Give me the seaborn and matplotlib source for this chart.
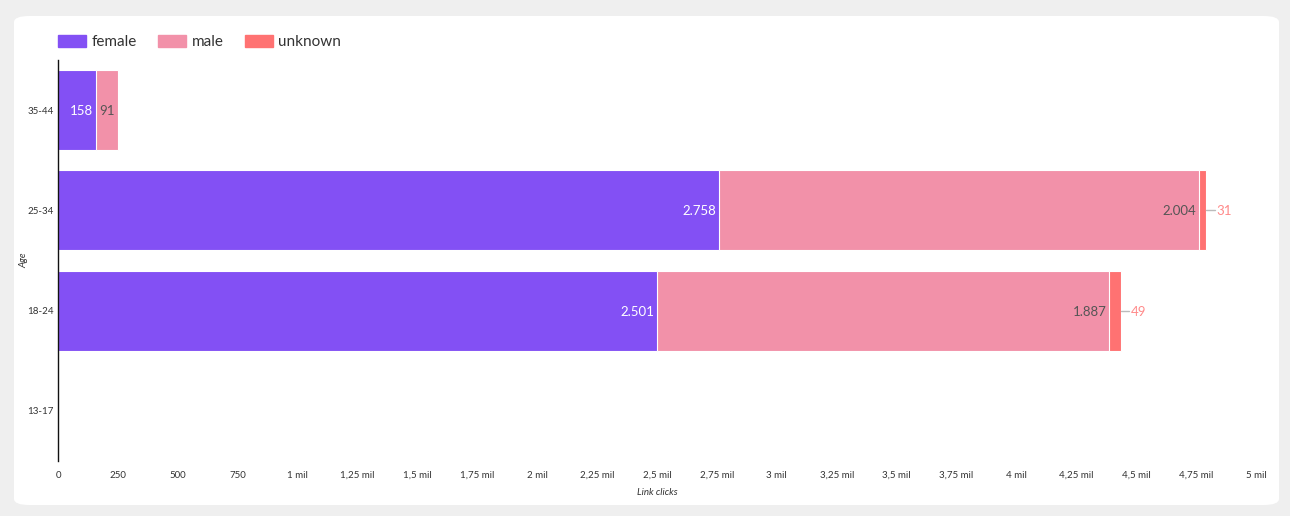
import matplotlib
matplotlib.use("Agg")
import matplotlib.pyplot as plt
from matplotlib.patches import FancyBboxPatch
import numpy as np
import pandas as pd
import seaborn as sns

ages = ["35-44", "25-34", "18-24", "13-17"]
female = [158, 2758, 2501, 0]
male = [91, 2004, 1887, 0]
unknown = [0, 31, 49, 0]
x_ticks = list(range(0, 5001, 250))

colors = {"female": "#8350F4", "male": "#F291A9", "unknown": "#FF7272"}


def fmt_num(v):
    return f"{v:,}".replace(",", ".")


def fmt_tick(v):
    if v < 1000:
        return str(int(v))
    s = f"{v / 1000:g}".replace(".", ",")
    return f"{s} mil"


sns.set_theme(style="white")
plt.rcParams["font.family"] = ["Lato", "DejaVu Sans"]

df = pd.DataFrame({"age": ages, "female": female, "male": male, "unknown": unknown})
df["fm"] = df["female"] + df["male"]
df["total"] = df["fm"] + df["unknown"]

fig = plt.figure(figsize=(12.9, 5.16), dpi=100)
fig.patch.set_facecolor("#EFEFEF")
card = FancyBboxPatch((14 / 1290, 1 - 505 / 516), 1265 / 1290, 489 / 516,
                      boxstyle="round,pad=0,rounding_size=0.012",
                      transform=fig.transFigure, facecolor="white",
                      edgecolor="none", zorder=-10)
fig.patches.append(card)

ax = fig.add_axes([58 / 1290, 1 - 461 / 516, 1198 / 1290, 401 / 516])
ax.set_facecolor("none")

# layered cumulative bars give the stacked look
for col, name in [("total", "unknown"), ("fm", "male"), ("female", "female")]:
    sns.barplot(data=df, y="age", x=col, color=colors[name], orient="h",
                width=0.8, edgecolor="white", linewidth=0.8, ax=ax,
                saturation=1, order=ages)

for i, row in df.iterrows():
    if row["female"] > 0:
        ax.text(row["female"] - 12, i + 0.01, fmt_num(row["female"]), ha="right",
                va="center", color="white", fontsize=9.5)
    if row["male"] > 0:
        ax.text(row["fm"] - 12, i + 0.01, fmt_num(row["male"]), ha="right",
                va="center", color="#555555", fontsize=9.5)
    if row["unknown"] > 0:
        ax.plot([row["total"], row["total"] + 35], [i, i], color="#bbbbbb", lw=1)
        ax.text(row["total"] + 40, i + 0.01, fmt_num(row["unknown"]), ha="left",
                va="center", color="#FF8A8A", fontsize=9.5)

ax.set_xlim(0, 5000)
ax.set_ylim(3.5, -0.5)
ax.set_xticks(x_ticks)
ax.set_xticklabels([fmt_tick(v) for v in x_ticks], fontsize=7, color="#333333")
ax.tick_params(axis="y", labelsize=7, colors="#333333", length=0, pad=3)
ax.tick_params(axis="x", length=0, pad=7)
ax.set_xlabel("Link clicks", fontsize=7, style="italic", color="#333333", labelpad=6)
ax.set_ylabel("Age", fontsize=7, style="italic", color="#333333", labelpad=-1)

for s in ["top", "right", "bottom"]:
    ax.spines[s].set_visible(False)
ax.spines["left"].set_color("#111111")
ax.spines["left"].set_linewidth(1)

handles = [plt.Rectangle((0, 0), 1, 1, color=colors[k]) for k in ["female", "male", "unknown"]]
fig.legend(handles, ["female", "male", "unknown"], loc="upper left",
           bbox_to_anchor=(44 / 1290, 1 - 21 / 516), ncol=3, frameon=False,
           fontsize=11, handlelength=1.85, handleheight=0.85, columnspacing=1.4,
           handletextpad=0.35, labelcolor="#333333")

fig.savefig("out.png", dpi=100)
